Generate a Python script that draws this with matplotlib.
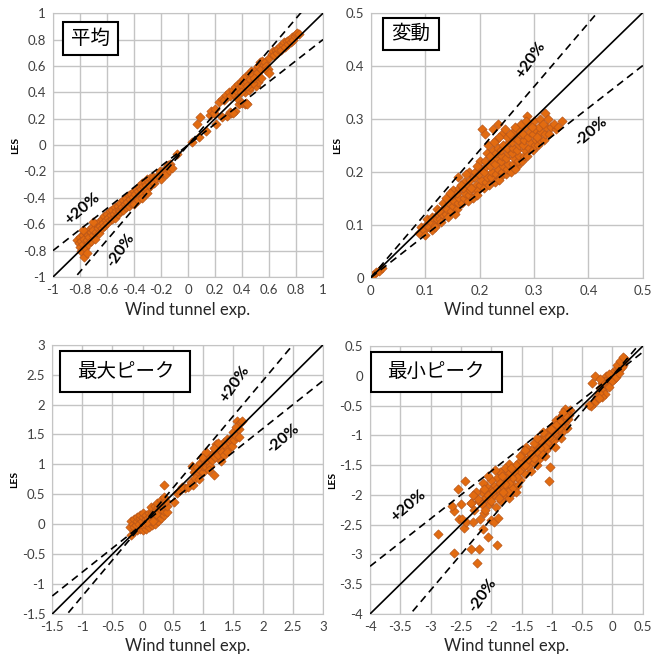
import numpy as np
import matplotlib
matplotlib.use("Agg")
import matplotlib.pyplot as plt
from matplotlib.patches import Rectangle

plt.rcParams['font.family'] = ['Lato', 'Noto Sans CJK JP', 'DejaVu Sans']

# (wind tunnel, LES) pairs for each statistic
mean_pts = [
    (-0.82, -0.72), (-0.81, -0.74), (-0.80, -0.70), (-0.80, -0.77), (-0.79, -0.73), (-0.79, -0.80),
    (-0.78, -0.68), (-0.78, -0.75), (-0.77, -0.71), (-0.77, -0.85), (-0.76, -0.66), (-0.76, -0.78),
    (-0.75, -0.72), (-0.75, -0.82), (-0.74, -0.68), (-0.74, -0.75), (-0.73, -0.64), (-0.73, -0.70),
    (-0.72, -0.66), (-0.72, -0.73), (-0.71, -0.62), (-0.70, -0.68), (-0.70, -0.64), (-0.69, -0.71),
    (-0.68, -0.60), (-0.68, -0.66), (-0.67, -0.63), (-0.66, -0.58), (-0.66, -0.67), (-0.65, -0.61),
    (-0.64, -0.56), (-0.64, -0.63), (-0.63, -0.59), (-0.62, -0.54), (-0.62, -0.61), (-0.61, -0.57),
    (-0.60, -0.52), (-0.60, -0.59), (-0.59, -0.55), (-0.58, -0.50), (-0.58, -0.57), (-0.57, -0.53),
    (-0.56, -0.49), (-0.56, -0.56), (-0.55, -0.52), (-0.54, -0.47), (-0.54, -0.55), (-0.53, -0.50),
    (-0.52, -0.46), (-0.52, -0.52), (-0.51, -0.49), (-0.50, -0.44), (-0.50, -0.50), (-0.49, -0.47),
    (-0.48, -0.42), (-0.48, -0.49), (-0.47, -0.45), (-0.46, -0.40), (-0.46, -0.47), (-0.45, -0.43),
    (-0.44, -0.38), (-0.44, -0.46), (-0.43, -0.41), (-0.42, -0.37), (-0.42, -0.44), (-0.41, -0.39),
    (-0.40, -0.35), (-0.40, -0.43), (-0.39, -0.37), (-0.38, -0.33), (-0.38, -0.40), (-0.37, -0.35),
    (-0.36, -0.31), (-0.36, -0.38), (-0.35, -0.33), (-0.34, -0.29), (-0.34, -0.36), (-0.33, -0.31),
    (-0.32, -0.28), (-0.32, -0.34), (-0.31, -0.30), (-0.30, -0.26), (-0.30, -0.33), (-0.29, -0.28),
    (-0.28, -0.25), (-0.28, -0.31), (-0.27, -0.27), (-0.26, -0.24), (-0.25, -0.29), (-0.24, -0.25),
    (-0.22, -0.23), (-0.21, -0.20), (-0.20, -0.26), (-0.19, -0.21), (-0.17, -0.18), (-0.16, -0.22),
    (-0.15, -0.15), (-0.14, -0.19), (-0.13, -0.14), (-0.12, -0.17), (-0.08, -0.07),
    (-0.40, -0.45), (-0.37, -0.42), (-0.34, -0.40), (-0.30, -0.36), (-0.78, -0.64), (-0.70, -0.58),
    (0.03, 0.02), (0.08, 0.06), (0.07, 0.16), (0.13, 0.11), (0.09, 0.21), (0.16, 0.23), (0.17, 0.26),
    (0.19, 0.24), (0.20, 0.27), (0.21, 0.16), (0.25, 0.21), (0.29, 0.22), (0.31, 0.25), (0.32, 0.24),
    (0.23, 0.33), (0.25, 0.35), (0.27, 0.34), (0.28, 0.38), (0.30, 0.40), (0.31, 0.37), (0.33, 0.42),
    (0.34, 0.39), (0.35, 0.44), (0.36, 0.41), (0.37, 0.46), (0.38, 0.43), (0.39, 0.48), (0.40, 0.45),
    (0.41, 0.50), (0.42, 0.47), (0.42, 0.40), (0.43, 0.52), (0.44, 0.48), (0.45, 0.54), (0.46, 0.50),
    (0.47, 0.56), (0.48, 0.53), (0.50, 0.58), (0.51, 0.55), (0.52, 0.60), (0.53, 0.63), (0.54, 0.58),
    (0.55, 0.64), (0.56, 0.61), (0.57, 0.63), (0.58, 0.60), (0.59, 0.58), (0.60, 0.66), (0.62, 0.69),
    (0.63, 0.71), (0.64, 0.68), (0.65, 0.72), (0.66, 0.70), (0.67, 0.73), (0.68, 0.75), (0.69, 0.72),
    (0.70, 0.76), (0.71, 0.78), (0.72, 0.74), (0.73, 0.79), (0.74, 0.77), (0.75, 0.80), (0.76, 0.78),
    (0.77, 0.82), (0.78, 0.80), (0.79, 0.83), (0.80, 0.84), (0.81, 0.85), (0.82, 0.84),
    (0.38, 0.31), (0.40, 0.32), (0.42, 0.31), (0.43, 0.32), (0.44, 0.31), (0.35, 0.26), (0.33, 0.24),
    (0.45, 0.42), (0.46, 0.44), (0.50, 0.45), (0.52, 0.48), (0.54, 0.51), (0.58, 0.57), (0.60, 0.55),
    (0.48, 0.47), (0.36, 0.36), (0.39, 0.40), (0.44, 0.45), (0.49, 0.51),
]

fluct_pts = [
    (0.005, 0.005), (0.010, 0.010), (0.015, 0.012), (0.020, 0.018),
    (0.089, 0.085), (0.092, 0.095), (0.098, 0.090), (0.101, 0.100), (0.103, 0.110), (0.100, 0.080),
    (0.108, 0.095), (0.111, 0.105), (0.113, 0.115), (0.112, 0.090), (0.118, 0.100), (0.121, 0.110),
    (0.123, 0.120), (0.119, 0.095), (0.122, 0.130), (0.128, 0.110), (0.131, 0.120), (0.133, 0.130),
    (0.129, 0.105), (0.132, 0.140), (0.138, 0.120), (0.141, 0.130), (0.143, 0.140), (0.139, 0.150),
    (0.142, 0.115), (0.148, 0.125), (0.151, 0.135), (0.153, 0.145), (0.149, 0.155), (0.152, 0.165),
    (0.158, 0.130), (0.161, 0.140), (0.163, 0.150), (0.159, 0.160), (0.162, 0.170), (0.160, 0.190),
    (0.168, 0.140), (0.171, 0.150), (0.173, 0.160), (0.169, 0.170), (0.172, 0.180), (0.178, 0.145),
    (0.181, 0.155), (0.183, 0.165), (0.179, 0.175), (0.182, 0.185), (0.180, 0.200), (0.188, 0.150),
    (0.191, 0.165), (0.193, 0.175), (0.189, 0.190), (0.192, 0.200), (0.198, 0.165), (0.201, 0.175),
    (0.203, 0.185), (0.199, 0.195), (0.202, 0.205), (0.200, 0.220), (0.205, 0.280), (0.208, 0.170),
    (0.211, 0.180), (0.213, 0.190), (0.209, 0.200), (0.212, 0.210), (0.210, 0.220), (0.214, 0.235),
    (0.210, 0.270), (0.218, 0.175), (0.221, 0.190), (0.223, 0.200), (0.219, 0.210), (0.222, 0.220),
    (0.220, 0.230), (0.224, 0.240), (0.225, 0.280), (0.228, 0.180), (0.231, 0.195), (0.233, 0.205),
    (0.229, 0.215), (0.232, 0.225), (0.230, 0.235), (0.234, 0.245), (0.231, 0.260), (0.233, 0.290),
    (0.238, 0.190), (0.241, 0.200), (0.243, 0.210), (0.239, 0.220), (0.242, 0.230), (0.240, 0.240),
    (0.244, 0.250), (0.241, 0.270), (0.248, 0.195), (0.251, 0.205), (0.253, 0.215), (0.249, 0.225),
    (0.252, 0.235), (0.250, 0.245), (0.254, 0.255), (0.251, 0.265), (0.258, 0.200), (0.261, 0.215),
    (0.263, 0.225), (0.259, 0.235), (0.262, 0.245), (0.260, 0.255), (0.264, 0.265), (0.261, 0.275),
    (0.268, 0.210), (0.271, 0.220), (0.273, 0.230), (0.269, 0.240), (0.272, 0.250), (0.270, 0.260),
    (0.274, 0.270), (0.271, 0.280), (0.278, 0.220), (0.281, 0.230), (0.283, 0.240), (0.279, 0.250),
    (0.282, 0.260), (0.280, 0.270), (0.284, 0.285), (0.288, 0.230), (0.291, 0.245), (0.293, 0.255),
    (0.289, 0.265), (0.292, 0.275), (0.290, 0.290), (0.288, 0.305), (0.298, 0.240), (0.301, 0.250),
    (0.303, 0.260), (0.299, 0.270), (0.302, 0.280), (0.300, 0.295), (0.308, 0.250), (0.311, 0.260),
    (0.313, 0.275), (0.309, 0.285), (0.312, 0.300), (0.318, 0.260), (0.321, 0.270), (0.323, 0.285),
    (0.320, 0.310), (0.328, 0.270), (0.331, 0.285), (0.340, 0.280), (0.352, 0.295),
    (0.125, 0.125), (0.145, 0.160), (0.165, 0.175), (0.175, 0.195), (0.185, 0.170), (0.195, 0.210),
    (0.215, 0.250), (0.226, 0.255), (0.236, 0.265), (0.246, 0.280), (0.256, 0.270), (0.266, 0.285),
    (0.276, 0.290), (0.286, 0.295), (0.296, 0.285), (0.306, 0.265), (0.316, 0.290), (0.326, 0.300),
    (0.336, 0.290), (0.345, 0.285), (0.155, 0.120), (0.195, 0.155), (0.235, 0.185), (0.265, 0.205),
]

max_pts = [
    (-0.20, -0.18), (-0.21, -0.05), (-0.19, 0.05), (-0.15, -0.12), (-0.16, 0.00), (-0.14, 0.08),
    (-0.15, -0.05), (-0.10, -0.10), (-0.11, -0.02), (-0.09, 0.06), (-0.10, 0.12), (-0.05, -0.08),
    (-0.06, 0.00), (-0.04, 0.10), (-0.05, 0.15), (0.00, -0.10), (0.01, -0.02), (-0.01, 0.05),
    (0.00, 0.12), (0.01, 0.18), (0.05, -0.08), (0.04, 0.00), (0.06, 0.08), (0.05, 0.15),
    (0.10, -0.05), (0.11, 0.03), (0.09, 0.10), (0.10, 0.18), (0.15, -0.02), (0.14, 0.05),
    (0.16, 0.12), (0.15, 0.20), (0.14, 0.28), (0.20, 0.00), (0.21, 0.08), (0.19, 0.15),
    (0.20, 0.22), (0.21, 0.30), (0.25, 0.05), (0.24, 0.12), (0.26, 0.20), (0.25, 0.28),
    (0.24, 0.35), (0.30, 0.10), (0.31, 0.18), (0.29, 0.25), (0.30, 0.32), (0.31, 0.40),
    (0.35, 0.15), (0.36, 0.22), (0.34, 0.30), (0.35, 0.38), (0.36, 0.45), (0.40, 0.20),
    (0.41, 0.30), (0.39, 0.38), (0.07, 0.03), (0.12, 0.14), (0.18, 0.06), (0.23, 0.17),
    (0.35, 0.65), (0.53, 0.37), (0.57, 0.53), (0.60, 0.55), (0.71, 0.60), (0.65, 0.62),
    (0.76, 0.62), (0.80, 0.70), (0.84, 0.66), (0.82, 0.97), (0.86, 0.88), (0.90, 0.82),
    (0.90, 0.95), (0.95, 0.90), (0.95, 1.02), (1.00, 0.88), (1.00, 0.98), (1.02, 1.08),
    (1.05, 0.95), (1.08, 1.05), (1.10, 1.12), (1.12, 0.98), (1.15, 1.08), (1.15, 1.18),
    (1.18, 0.83), (1.20, 1.12), (1.22, 1.22), (1.22, 1.34), (1.25, 1.15), (1.28, 1.25),
    (1.30, 1.32), (1.32, 1.20), (1.35, 1.38), (1.38, 1.30), (1.40, 1.42), (1.42, 1.25),
    (1.45, 1.35), (1.46, 1.43), (1.48, 1.30), (1.50, 1.54), (1.52, 1.40), (1.55, 1.48),
    (1.57, 1.73), (1.60, 1.60), (1.62, 1.69), (1.65, 1.72), (1.60, 1.45), (1.30, 1.05),
    (1.35, 1.15), (1.10, 0.90), (0.98, 1.12), (1.05, 1.20), (1.18, 1.28), (0.88, 0.78),
    (0.93, 0.75), (1.25, 1.35), (1.40, 1.20), (1.55, 1.62),
]

min_pts = [
    (0.18, 0.25), (0.20, 0.28), (0.15, 0.22), (0.17, 0.18), (0.12, 0.20), (0.10, 0.15),
    (0.13, 0.12), (0.08, 0.10), (0.05, 0.12), (0.06, 0.05), (0.03, 0.02), (0.00, 0.05),
    (-0.02, 0.00), (0.02, -0.05), (-0.05, -0.02), (-0.04, -0.10), (-0.08, -0.05), (-0.10, 0.00),
    (-0.12, -0.08), (-0.10, -0.15), (-0.15, -0.10), (-0.18, -0.12), (-0.20, -0.20), (-0.15, -0.25),
    (-0.12, -0.30), (-0.18, -0.35), (-0.22, -0.28), (-0.25, -0.35), (-0.28, -0.40), (-0.30, -0.45),
    (-0.35, -0.50), (-0.22, -0.38), (0.00, -0.08), (0.05, -0.02), (0.10, 0.05), (0.15, 0.15),
    (-0.06, 0.03), (0.08, 0.18), (0.12, 0.25), (0.17, 0.32), (-0.29, -0.01), (-0.33, -0.12),
    (-0.05, -0.18), (-0.38, -0.49), (-0.20, -0.05),
    (-0.70, -0.58), (-0.72, -0.65), (-0.74, -0.72), (-0.76, -0.62), (-0.78, -0.80), (-0.75, -0.88),
    (-0.79, -0.56), (-0.80, -0.70), (-0.82, -0.76), (-0.84, -0.66), (-0.85, -0.85), (-0.83, -0.94),
    (-0.88, -0.72), (-0.90, -0.80), (-0.90, -0.92), (-0.92, -1.02), (-0.93, -0.75), (-0.95, -0.88),
    (-0.96, -0.98), (-0.98, -1.10), (-1.00, -0.85), (-1.00, -0.95), (-1.02, -1.05), (-1.04, -1.18),
    (-1.05, -1.77), (-1.03, -1.53), (-1.06, -0.92), (-1.08, -1.00), (-1.10, -1.10), (-1.10, -1.25),
    (-1.12, -1.35), (-1.14, -1.02), (-1.15, -1.15), (-1.18, -1.28), (-1.20, -1.08), (-1.22, -1.40),
    (-1.24, -1.20), (-1.25, -1.50), (-1.28, -1.30), (-1.30, -1.12), (-1.32, -1.45), (-1.35, -1.60),
    (-1.35, -1.25), (-1.38, -1.38), (-1.40, -1.52), (-1.42, -1.20), (-1.45, -1.65), (-1.46, -1.40),
    (-1.48, -1.30), (-1.50, -1.55), (-1.52, -1.75), (-1.55, -1.45), (-1.56, -1.62), (-1.58, -1.85),
    (-1.60, -1.50), (-1.62, -1.70), (-1.64, -1.95), (-1.65, -1.58), (-1.68, -1.80), (-1.70, -1.48),
    (-1.72, -1.65), (-1.74, -1.90), (-1.75, -2.02), (-1.78, -1.55), (-1.80, -1.75), (-1.82, -1.85),
    (-1.84, -2.10), (-1.85, -1.62), (-1.88, -1.95), (-1.90, -1.72), (-1.92, -2.20), (-1.94, -1.58),
    (-1.95, -1.85), (-1.97, -2.02), (-2.00, -1.75), (-2.02, -1.92), (-2.04, -2.15), (-2.05, -1.68),
    (-2.08, -1.85), (-2.10, -2.05), (-2.12, -2.30), (-2.14, -1.80), (-2.16, -1.95), (-2.18, -2.40),
    (-2.20, -2.10), (-2.22, -2.07), (-2.25, -1.95), (-2.28, -2.25), (-2.30, -2.00), (-2.33, -2.13),
    (-1.70, -2.05), (-1.60, -1.95), (-1.52, -1.35), (-1.45, -1.25), (-1.40, -1.40), (-1.25, -1.05),
    (-1.15, -0.95), (-0.95, -1.20), (-0.85, -1.05),
    (-0.78, -0.66), (-0.81, -0.60), (-0.86, -0.78), (-0.88, -0.88), (-0.94, -0.82), (-0.97, -0.92),
    (-1.02, -0.90), (-1.05, -1.02), (-1.08, -1.12), (-1.12, -1.20), (-1.16, -1.32), (-1.20, -1.22),
    (-1.26, -1.28), (-1.30, -1.38), (-1.34, -1.32), (-1.44, -1.50), (-1.54, -1.60), (-1.58, -1.70),
    (-1.62, -1.60), (-1.66, -1.72), (-1.66, -1.88), (-1.70, -1.80), (-1.72, -1.95), (-1.76, -1.72),
    (-1.78, -1.82), (-1.80, -1.95), (-1.82, -1.68), (-1.86, -1.80), (-1.88, -2.05), (-1.92, -1.90),
    (-1.98, -1.95), (-2.00, -2.10), (-2.06, -2.00), (-2.12, -1.90), (-2.16, -2.15), (-1.68, -1.55),
    (-2.88, -2.66), (-2.62, -2.98), (-2.24, -3.14), (-2.33, -2.91), (-2.20, -2.91), (-1.91, -2.84),
    (-2.06, -2.70), (-2.14, -2.57), (-2.45, -2.55), (-2.42, -2.45), (-2.53, -2.41), (-2.48, -2.40),
    (-2.61, -2.27), (-2.64, -2.18), (-2.55, -1.90), (-2.44, -1.76), (-2.50, -2.16), (-2.33, -2.13),
    (-2.00, -2.43), (-1.95, -2.46), (-1.89, -2.38), (-2.30, -2.45), (-2.10, -2.25),
]

panels = [
    (mean_pts, '平均', (-1, 1), 0.2, (-0.78, -0.48, 40), (-0.50, -0.80, 55)),
    (fluct_pts, '変動', (0, 0.5), 0.1, (0.294, 0.41, 55), (0.404, 0.275, 40)),
    (max_pts, '最大ピーク', (-1.5, 3), 0.5, (1.54, 2.35, 55), (2.34, 1.43, 40)),
    (min_pts, '最小ピーク', (-4, 0.5), 0.5, (-3.37, -2.18, 40), (-2.14, -3.69, 55)),
]
rects = [
    [0.080, 0.579, 0.408, 0.401],
    [0.560, 0.578, 0.411, 0.403],
    [0.079, 0.067, 0.409, 0.409],
    [0.559, 0.067, 0.412, 0.407],
]
boxes = [
    (0.037, 0.84, 0.203, 0.126),
    (0.044, 0.86, 0.206, 0.12),
    (0.030, 0.825, 0.48, 0.153),
    (0.002, 0.829, 0.48, 0.149),
]

fig = plt.figure(figsize=(6.62, 6.58), dpi=100)

for (pts, title, lim, step, plus, minus), rect, box in zip(panels, rects, boxes):
    ax = fig.add_axes(rect)
    lo, hi = lim
    xs = np.array([lo, hi])
    ax.plot(xs, xs, color='black', lw=1.2, zorder=3)
    ax.plot(xs, 1.2 * xs, color='black', lw=1.2, ls=(0, (4.5, 3)), zorder=3)
    ax.plot(xs, 0.8 * xs, color='black', lw=1.2, ls=(0, (4.5, 3)), zorder=3)

    p = np.array(pts)
    ax.scatter(p[:, 0], p[:, 1], marker='D', s=22, c='#E26B10',
               edgecolors='#B8561A', linewidths=0.5, zorder=2)

    ax.set_xlim(lo, hi)
    ax.set_ylim(lo, hi)
    ticks = np.arange(lo, hi + step / 2, step)
    labels = ['%g' % (round(t, 2) + 0.0) for t in ticks]
    ax.set_xticks(ticks)
    ax.set_yticks(ticks)
    ax.set_xticklabels(labels)
    ax.set_yticklabels(labels)
    ax.tick_params(length=0, labelsize=9.5, labelcolor='#404040', pad=5)
    ax.grid(True, color='#c4c4c4', lw=1.0, zorder=0)
    ax.set_axisbelow(True)
    for s in ax.spines.values():
        s.set_color('#c4c4c4')

    ax.set_xlabel('Wind tunnel exp.', fontsize=12, color='#262626', labelpad=4)
    ax.set_ylabel('LES', fontsize=7.5, fontweight='bold', labelpad=2)

    ax.text(plus[0], plus[1], '+20%', rotation=plus[2], fontsize=11.5, fontweight='bold',
            ha='center', va='center', zorder=4)
    ax.text(minus[0], minus[1], '-20%', rotation=minus[2], fontsize=11.5, fontweight='bold',
            ha='center', va='center', zorder=4)

    bx, by, bw, bh = box
    ax.add_patch(Rectangle((bx, by), bw, bh, transform=ax.transAxes, facecolor='white',
                           edgecolor='black', lw=1.5, zorder=5))
    ax.text(bx + bw / 2, by + bh / 2, title, transform=ax.transAxes, fontsize=14,
            family=['Noto Sans CJK JP'], ha='center', va='center', zorder=6)

fig.savefig('out.png', dpi=100)
